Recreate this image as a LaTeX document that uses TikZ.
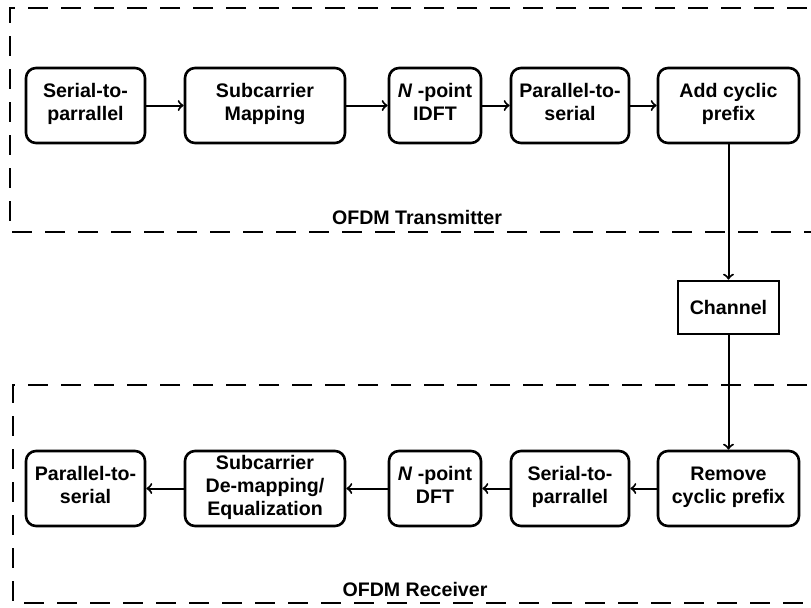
\documentclass[tikz,border=0pt]{standalone}
\usepackage{fontspec}
\setmainfont{Liberation Sans}
\usetikzlibrary{positioning}

\begin{document}
\begin{tikzpicture}[
    x=0.5pt, y=-0.5pt,
    node distance=80pt,
    on grid,
    font=\bfseries\fontsize{9.8}{11.5}\selectfont,
    block/.style={draw, rounded corners=5pt, line width=1.3pt, align=center,
                  minimum height=37.5pt, inner sep=1pt,
                  execute at begin node=\rule{0pt}{13pt},
                  execute at end node=\rule[-3.45pt]{0pt}{3.45pt}},
    chan/.style={draw, line width=1.3pt, minimum width=50.5pt, minimum height=26.5pt},
    link/.style={->, line width=1pt},
    frame/.style={line width=1.3pt, dash pattern=on 10pt off 6.5pt},
    caption/.style={inner sep=0pt}
]
  \useasboundingbox (0,0) rectangle (811,607);
  \clip (0,0) rectangle (811,607);

  % Transmitter chain
  \node[block, minimum width=59.5pt] (s2p) at (85.5,105.5) {Serial-to-\\parrallel};
  \node[block, minimum width=80pt]   (map) [right=89.75pt of s2p] {Subcarrier\\Mapping};
  \node[block, minimum width=46pt]   (idft) [right=85pt of map] {\textit{N} -point\\IDFT};
  \node[block, minimum width=59pt]   (p2s) [right=67.5pt of idft] {Parallel-to-\\serial};
  \node[block, minimum width=70.5pt] (addcp) [right=79.25pt of p2s] {Add cyclic\\prefix};

  % Channel
  \node[chan] (chan) [below=101pt of addcp] {Channel};

  % Receiver chain
  \node[block, minimum width=70.5pt] (remcp) [below=90.5pt of chan] {Remove\\cyclic prefix};
  \node[block, minimum width=59pt]   (rs2p) [left=79.25pt of remcp] {Serial-to-\\parrallel};
  \node[block, minimum width=46pt]   (dft) [left=67.5pt of rs2p] {\textit{N} -point\\DFT};
  \node[block, minimum width=80pt]   (demap) [left=85pt of dft] {Subcarrier\\De-mapping/\\Equalization};
  \node[block, minimum width=59.5pt] (rp2s) [left=89.75pt of demap] {Parallel-to-\\serial};

  % Frames
  \draw[frame] (840,8) -| (10,232) -- (840,232);
  \draw[frame] (840,385) -| (13,603) -- (840,603);
  \node[caption] (txlab) at (417,217) {OFDM Transmitter};
  \node[caption] (rxlab) at (415,589) {OFDM Receiver};

  % Connections
  \draw[link] (s2p) -- (map);
  \draw[link] (map) -- (idft);
  \draw[link] (idft) -- (p2s);
  \draw[link] (p2s) -- (addcp);
  \draw[link] (addcp) -- (chan);
  \draw[link] (chan) -- (remcp);
  \draw[link] (remcp) -- (rs2p);
  \draw[link] (rs2p) -- (dft);
  \draw[link] (dft) -- (demap);
  \draw[link] (demap) -- (rp2s);
\end{tikzpicture}
\end{document}
